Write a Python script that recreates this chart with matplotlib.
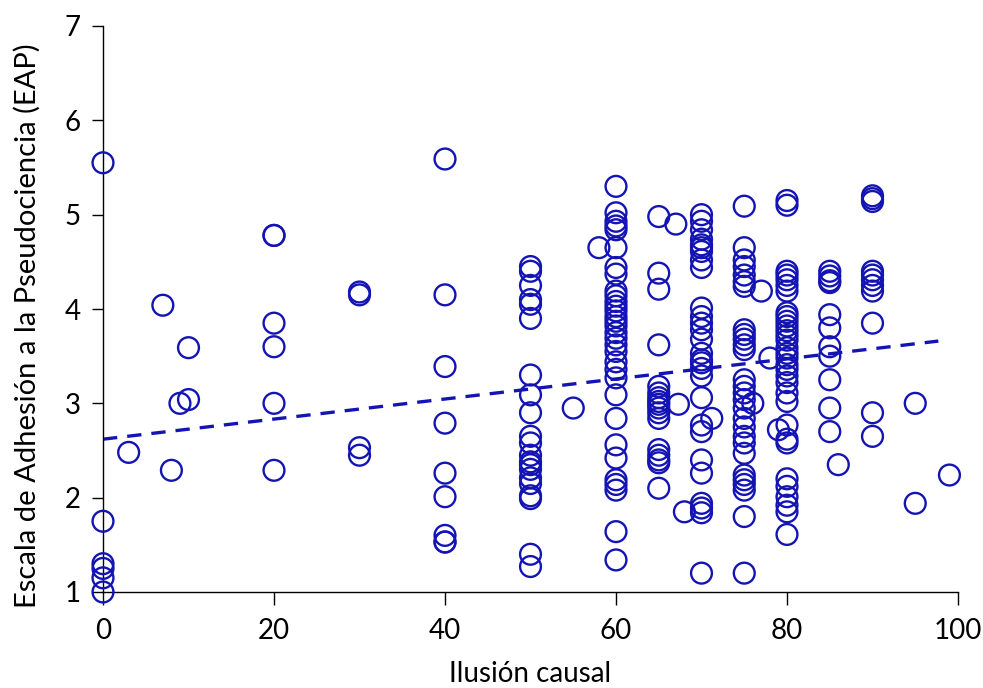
import matplotlib
matplotlib.use("Agg")
import matplotlib.pyplot as plt
import numpy as np

# Ilusión causal (x) and EAP score (y)
x_vals = [0, 0, 0, 0, 0, 0,
          3, 7, 8, 9, 10, 10,
          20, 20, 20, 20, 20, 20,
          30, 30, 30, 30,
          40, 40, 40, 40, 40, 40, 40, 40, 40,
          50, 50, 50, 50, 50, 50, 50, 50, 50, 50, 50, 50, 50, 50, 50, 50, 50, 50, 50, 50, 50,
          55, 58,
          60, 60, 60, 60, 60, 60, 60, 60, 60, 60, 60, 60, 60, 60, 60, 60, 60, 60, 60, 60,
          60, 60, 60, 60, 60, 60, 60, 60, 60, 60, 60, 60,
          65, 65, 65, 65, 65, 65, 65, 65, 65, 65, 65, 65, 65, 65, 65, 65, 65,
          67, 67.3, 68, 71.2,
          70, 70, 70, 70, 70, 70, 70, 70, 70, 70, 70, 70, 70, 70, 70, 70, 70, 70, 70, 70,
          70, 70, 70, 70, 70, 70, 70, 70,
          75, 75, 75, 75, 75, 75, 75, 75, 75, 75, 75, 75, 75, 75, 75, 75, 75, 75, 75, 75,
          75, 75, 75, 75, 75, 75, 75, 75,
          76, 77, 78, 79,
          80, 80, 80, 80, 80, 80, 80, 80, 80, 80, 80, 80, 80, 80, 80, 80, 80, 80, 80, 80,
          80, 80, 80, 80, 80, 80, 80, 80, 80, 80, 80, 80,
          85, 85, 85, 85, 85, 85, 85, 85, 85, 85, 85,
          86,
          90, 90, 90, 90, 90, 90, 90, 90, 90, 90, 90,
          95, 95, 99]

y_vals = [5.55, 1.75, 1.30, 1.25, 1.15, 1.00,
          2.48, 4.04, 2.29, 3.00, 3.59, 3.04,
          4.78, 3.85, 3.60, 3.00, 2.29, 4.78,
          4.18, 4.15, 2.53, 2.45,
          5.59, 4.15, 3.39, 2.79, 2.26, 2.01, 1.60, 1.53, 1.53,
          4.45, 4.40, 4.25, 4.10, 4.05, 3.90, 3.30, 3.09, 2.90, 2.65, 2.58, 2.45, 2.38,
          2.35, 2.30, 2.21, 2.15, 1.99, 1.40, 1.27, 2.02,
          2.95, 4.65,
          5.30, 5.02, 4.93, 4.88, 4.84, 4.65, 4.44, 4.37, 4.19, 4.14, 4.08, 4.03, 3.98,
          3.92, 3.87, 3.82, 3.75, 3.69, 3.62, 3.55, 3.44, 3.36, 3.27, 3.09, 2.84, 2.56,
          2.42, 2.19, 2.14, 2.08, 1.64, 1.34,
          4.98, 4.38, 4.21, 3.62, 3.18, 3.11, 3.06, 3.02, 2.99, 2.95, 2.90, 2.84, 2.51,
          2.45, 2.40, 2.37, 2.10,
          4.90, 2.99, 1.85, 2.84,
          5.00, 4.93, 4.84, 4.74, 4.68, 4.65, 4.61, 4.52, 4.44, 4.01, 3.92, 3.85, 3.78,
          3.68, 3.53, 3.46, 3.43, 3.37, 3.29, 3.06, 2.77, 2.70, 2.40, 2.26, 1.94, 1.89,
          1.84, 1.20,
          5.09, 4.65, 4.52, 4.45, 4.36, 4.29, 4.24, 3.78, 3.73, 3.68, 3.62, 3.57, 3.25,
          3.18, 3.11, 3.04, 2.95, 2.84, 2.75, 2.65, 2.58, 2.47, 2.24, 2.19, 2.14, 2.08,
          1.80, 1.20,
          3.00, 4.19, 3.48, 2.72,
          5.15, 5.10, 4.40, 4.36, 4.31, 4.25, 4.19, 3.96, 3.92, 3.87, 3.82, 3.77, 3.72,
          3.67, 3.59, 3.53, 3.48, 3.41, 3.36, 3.29, 3.22, 3.11, 3.02, 2.77, 2.62, 2.58,
          2.20, 2.12, 2.01, 1.92, 1.85, 1.61,
          4.40, 4.35, 4.30, 4.28, 3.94, 3.80, 3.60, 3.50, 3.25, 2.95, 2.70,
          2.35,
          5.20, 5.17, 5.14, 4.40, 4.36, 4.31, 4.25, 4.19, 3.85, 2.90, 2.65,
          3.00, 1.94, 2.24]

# Linear trend line
trend_x = [0, 97.7]
trend_y = [2.62, 3.66]

x_ticks = [0, 20, 40, 60, 80, 100]
y_ticks = [1, 2, 3, 4, 5, 6, 7]

color = "#1414b4"
plt.rcParams['font.family'] = ['Lato', 'DejaVu Sans']

fig = plt.figure(figsize=(9.83, 6.88), dpi=100)
ax = fig.add_axes([103/983, 1 - 592/688, (958 - 103)/983, (592 - 26)/688])

ax.scatter(x_vals, y_vals, s=15**2, facecolors='none', edgecolors=color,
           linewidths=1.7, clip_on=False, zorder=3)
ax.plot(trend_x, trend_y, linestyle=(0, (4.3, 3.0)), color=color, linewidth=2.4, zorder=2)

ax.set_xlim(0, 100)
ax.set_ylim(1, 7)
ax.set_xticks(x_ticks)
ax.set_yticks(y_ticks)
ax.spines['top'].set_visible(False)
ax.spines['right'].set_visible(False)
for s in ['left', 'bottom']:
    ax.spines[s].set_linewidth(1.0)
    ax.spines[s].set_color('black')
ax.tick_params(axis='x', direction='out', length=9, width=1.0, labelsize=20, pad=10)
ax.tick_params(axis='y', direction='out', length=8, width=1.0, labelsize=20, pad=8)

ax.set_xlabel('Ilusión causal', fontsize=20, labelpad=12)
ax.set_ylabel('Escala de Adhesión a la Pseudociencia (EAP)', fontsize=21)
ax.yaxis.set_label_coords(-0.073, 0.47)

fig.savefig('out.png', dpi=100)
